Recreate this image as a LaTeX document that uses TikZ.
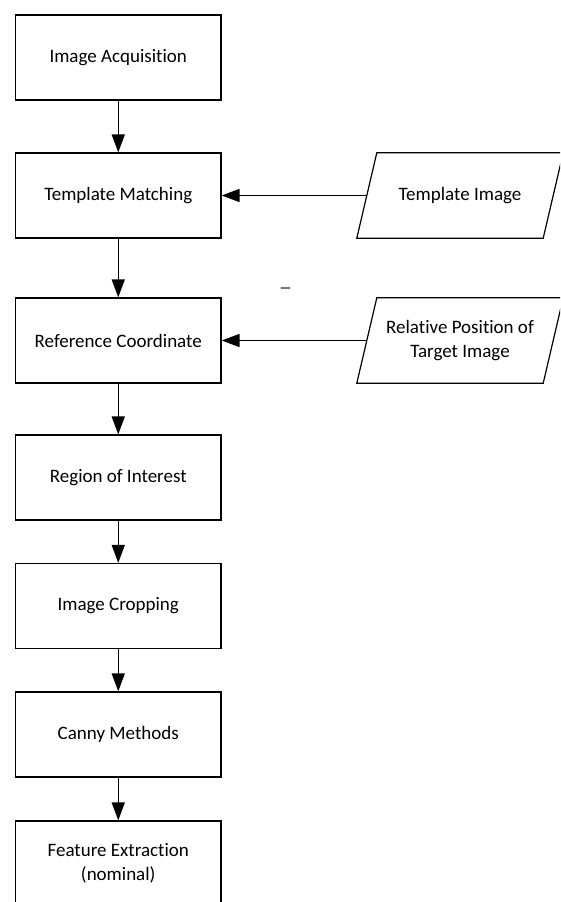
\documentclass[tikz,border=0pt]{standalone}
\usepackage{fontspec}
\setmainfont[RawFeature={-liga;-clig;-calt}]{Carlito}
\usetikzlibrary{arrows.meta}

\tikzset{
  stage/.style={draw, line width=1.2pt, minimum width=205.5pt, minimum height=85pt, align=center, inner sep=0pt},
  datain/.style={minimum width=186pt, minimum height=85pt, align=center, inner sep=0pt},
  flow/.style={line width=1.5pt, -{Triangle[length=18pt,width=13pt]}},
}

\begin{document}
\begin{tikzpicture}[x=1pt, y=-1pt, font=\fontsize{19}{24}\selectfont]
			%%%%% START %%%%%
			\useasboundingbox (0,0) rectangle (560,902);
			\clip (0,0) rectangle (560,902);
			
			\node[stage] (acq) at (118.25, 57.5) {Image Acquisition};
			\node[stage] (match) at (118.25, 195.5) {Template Matching};
			\node[stage] (refc) at (118.25, 340.5) {Reference Coordinate};
			\node[stage] (roi) at (118.25, 477.5) {Region of Interest};
			\node[stage] (crop) at (118.25, 606) {Image Cropping};
			\node[stage] (canny) at (118.25, 734.5) {Canny Methods};
			\node[stage] (feat) at (118.25, 863.5) {Feature Extraction\\(nominal)};
			
			\node[datain] (tpl) at (460, 195.5) {Template Image};
			\node[datain] (relpos) at (460, 340.5) {Relative Position of\\Target Image};
			
			\foreach \n in {tpl, relpos}
				\draw[line width=1.2pt] ([xshift=10pt]\n.north west) -- ([xshift=10pt]\n.north east)
					-- ([xshift=-10pt]\n.south east) -- ([xshift=-10pt]\n.south west) -- cycle;
			
			\node (mark) at (285.5, 288) {\_};
			
			\draw[flow] (acq) -- (match);
			\draw[flow] (match) -- (refc);
			\draw[flow] (refc) -- (roi);
			\draw[flow] (roi) -- (crop);
			\draw[flow] (crop) -- (canny);
			\draw[flow] (canny) -- (feat);
			
			\draw[flow] (tpl.west) -- (match.east);
			\draw[flow] (relpos.west) -- (refc.east);
			%%%%% END %%%%%
\end{tikzpicture}
\end{document}
